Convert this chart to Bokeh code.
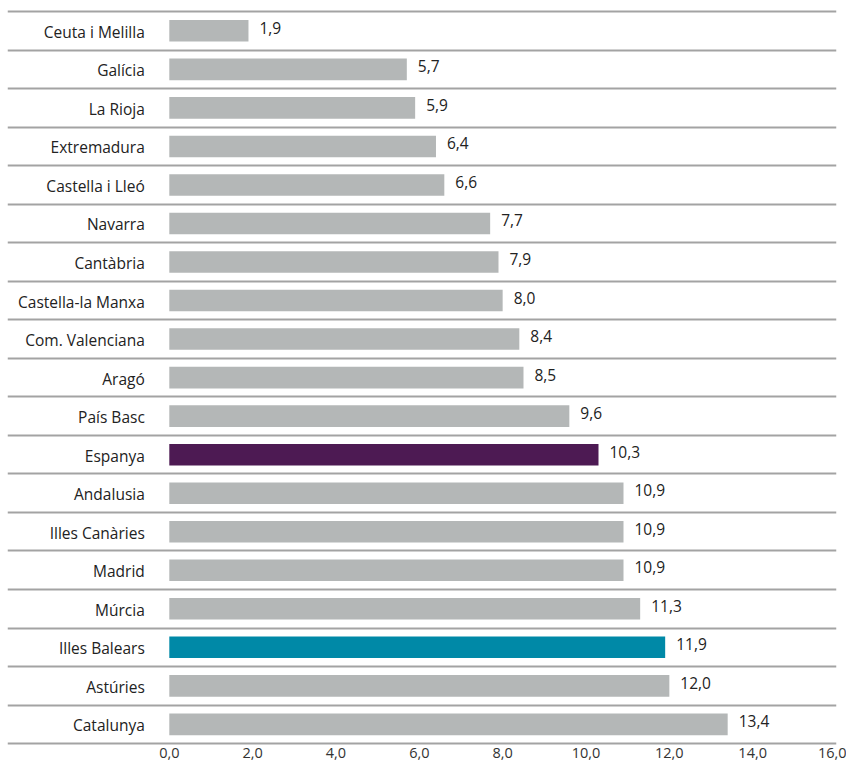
from bokeh.plotting import figure
from bokeh.models import ColumnDataSource, Range1d, FixedTicker
from bokeh.core.properties import value
from bokeh.embed import file_html
from bokeh.resources import INLINE

categories = ["Ceuta i Melilla", "Galícia", "La Rioja", "Extremadura", "Castella i Lleó",
              "Navarra", "Cantàbria", "Castella-la Manxa", "Com. Valenciana", "Aragó",
              "País Basc", "Espanya", "Andalusia", "Illes Canàries", "Madrid", "Múrcia",
              "Illes Balears", "Astúries", "Catalunya"]
values = [1.9, 5.7, 5.9, 6.4, 6.6, 7.7, 7.9, 8.0, 8.4, 8.5, 9.6, 10.3, 10.9, 10.9, 10.9,
          11.3, 11.9, 12.0, 13.4]
highlight = {"Espanya": "#4d1a53", "Illes Balears": "#0089a7"}
base_color = "#b4b7b7"
ticks = [0, 2, 4, 6, 8, 10, 12, 14, 16]
tick_labels = ["0,0", "2,0", "4,0", "6,0", "8,0", "10,0", "12,0", "14,0", "16,0"]

FONT = "Open Sans"
n = len(categories)
idx = list(range(n))
src = ColumnDataSource(dict(
    y=idx,
    v=values,
    cat=categories,
    lab=[f"{x:.1f}".replace(".", ",") for x in values],
    zero=[0] * n,
    col=[highlight.get(c, base_color) for c in categories],
))

# layout (pixels)
W, H = 846, 767
zero_px = 168.8          # x pixel of value 0
unit_px = 41.67          # pixels per unit on x
frame_left, frame_right = 7, 836
row_px = 38.53           # row pitch
first_line_px = 11.07    # y pixel of the top separator
frame_bottom = 746

x_start = (frame_left - zero_px) / unit_px
x_end = (frame_right - zero_px) / unit_px
y_top = -0.5 - first_line_px / row_px
y_bottom = y_top + frame_bottom / row_px

p = figure(width=W, height=H, output_backend="svg", toolbar_location=None,
           x_range=Range1d(x_start, x_end),
           y_range=Range1d(y_bottom, y_top),
           y_axis_location=None,
           min_border_left=frame_left, min_border_right=W - frame_right,
           min_border_top=0, min_border_bottom=H - frame_bottom)
p.outline_line_color = None
p.xgrid.visible = False
p.ygrid.visible = False

# separator lines between rows
p.hspan(y=[i - 0.5 for i in range(n + 1)], line_color="#a3a3a3", line_width=2)

p.hbar(y="y", left="zero", right="v", height=0.56, fill_color="col", line_color=None, source=src)

p.text(x="v", y="y", text="lab", x_offset=11, y_offset=-3, text_align="left",
       text_baseline="middle", text_font=value(FONT), text_font_size="15.5px",
       text_color="#222222", source=src)
p.text(x="zero", y="y", text="cat", x_offset=-24.5, y_offset=1, text_align="right",
       text_baseline="middle", text_font=value(FONT), text_font_size="15.5px",
       text_color="#222222", source=src)

ax = p.xaxis[0]
ax.ticker = FixedTicker(ticks=ticks)
ax.major_label_overrides = {t: l for t, l in zip(ticks, tick_labels)}
ax.axis_line_color = None
ax.major_tick_line_color = None
ax.minor_tick_line_color = None
ax.major_tick_out = 0
ax.major_tick_in = 0
ax.major_label_standoff = 1
ax.major_label_text_font = FONT
ax.major_label_text_font_size = "14.5px"
ax.major_label_text_color = "#333333"

open("out.html", "w").write(file_html(p, INLINE))
